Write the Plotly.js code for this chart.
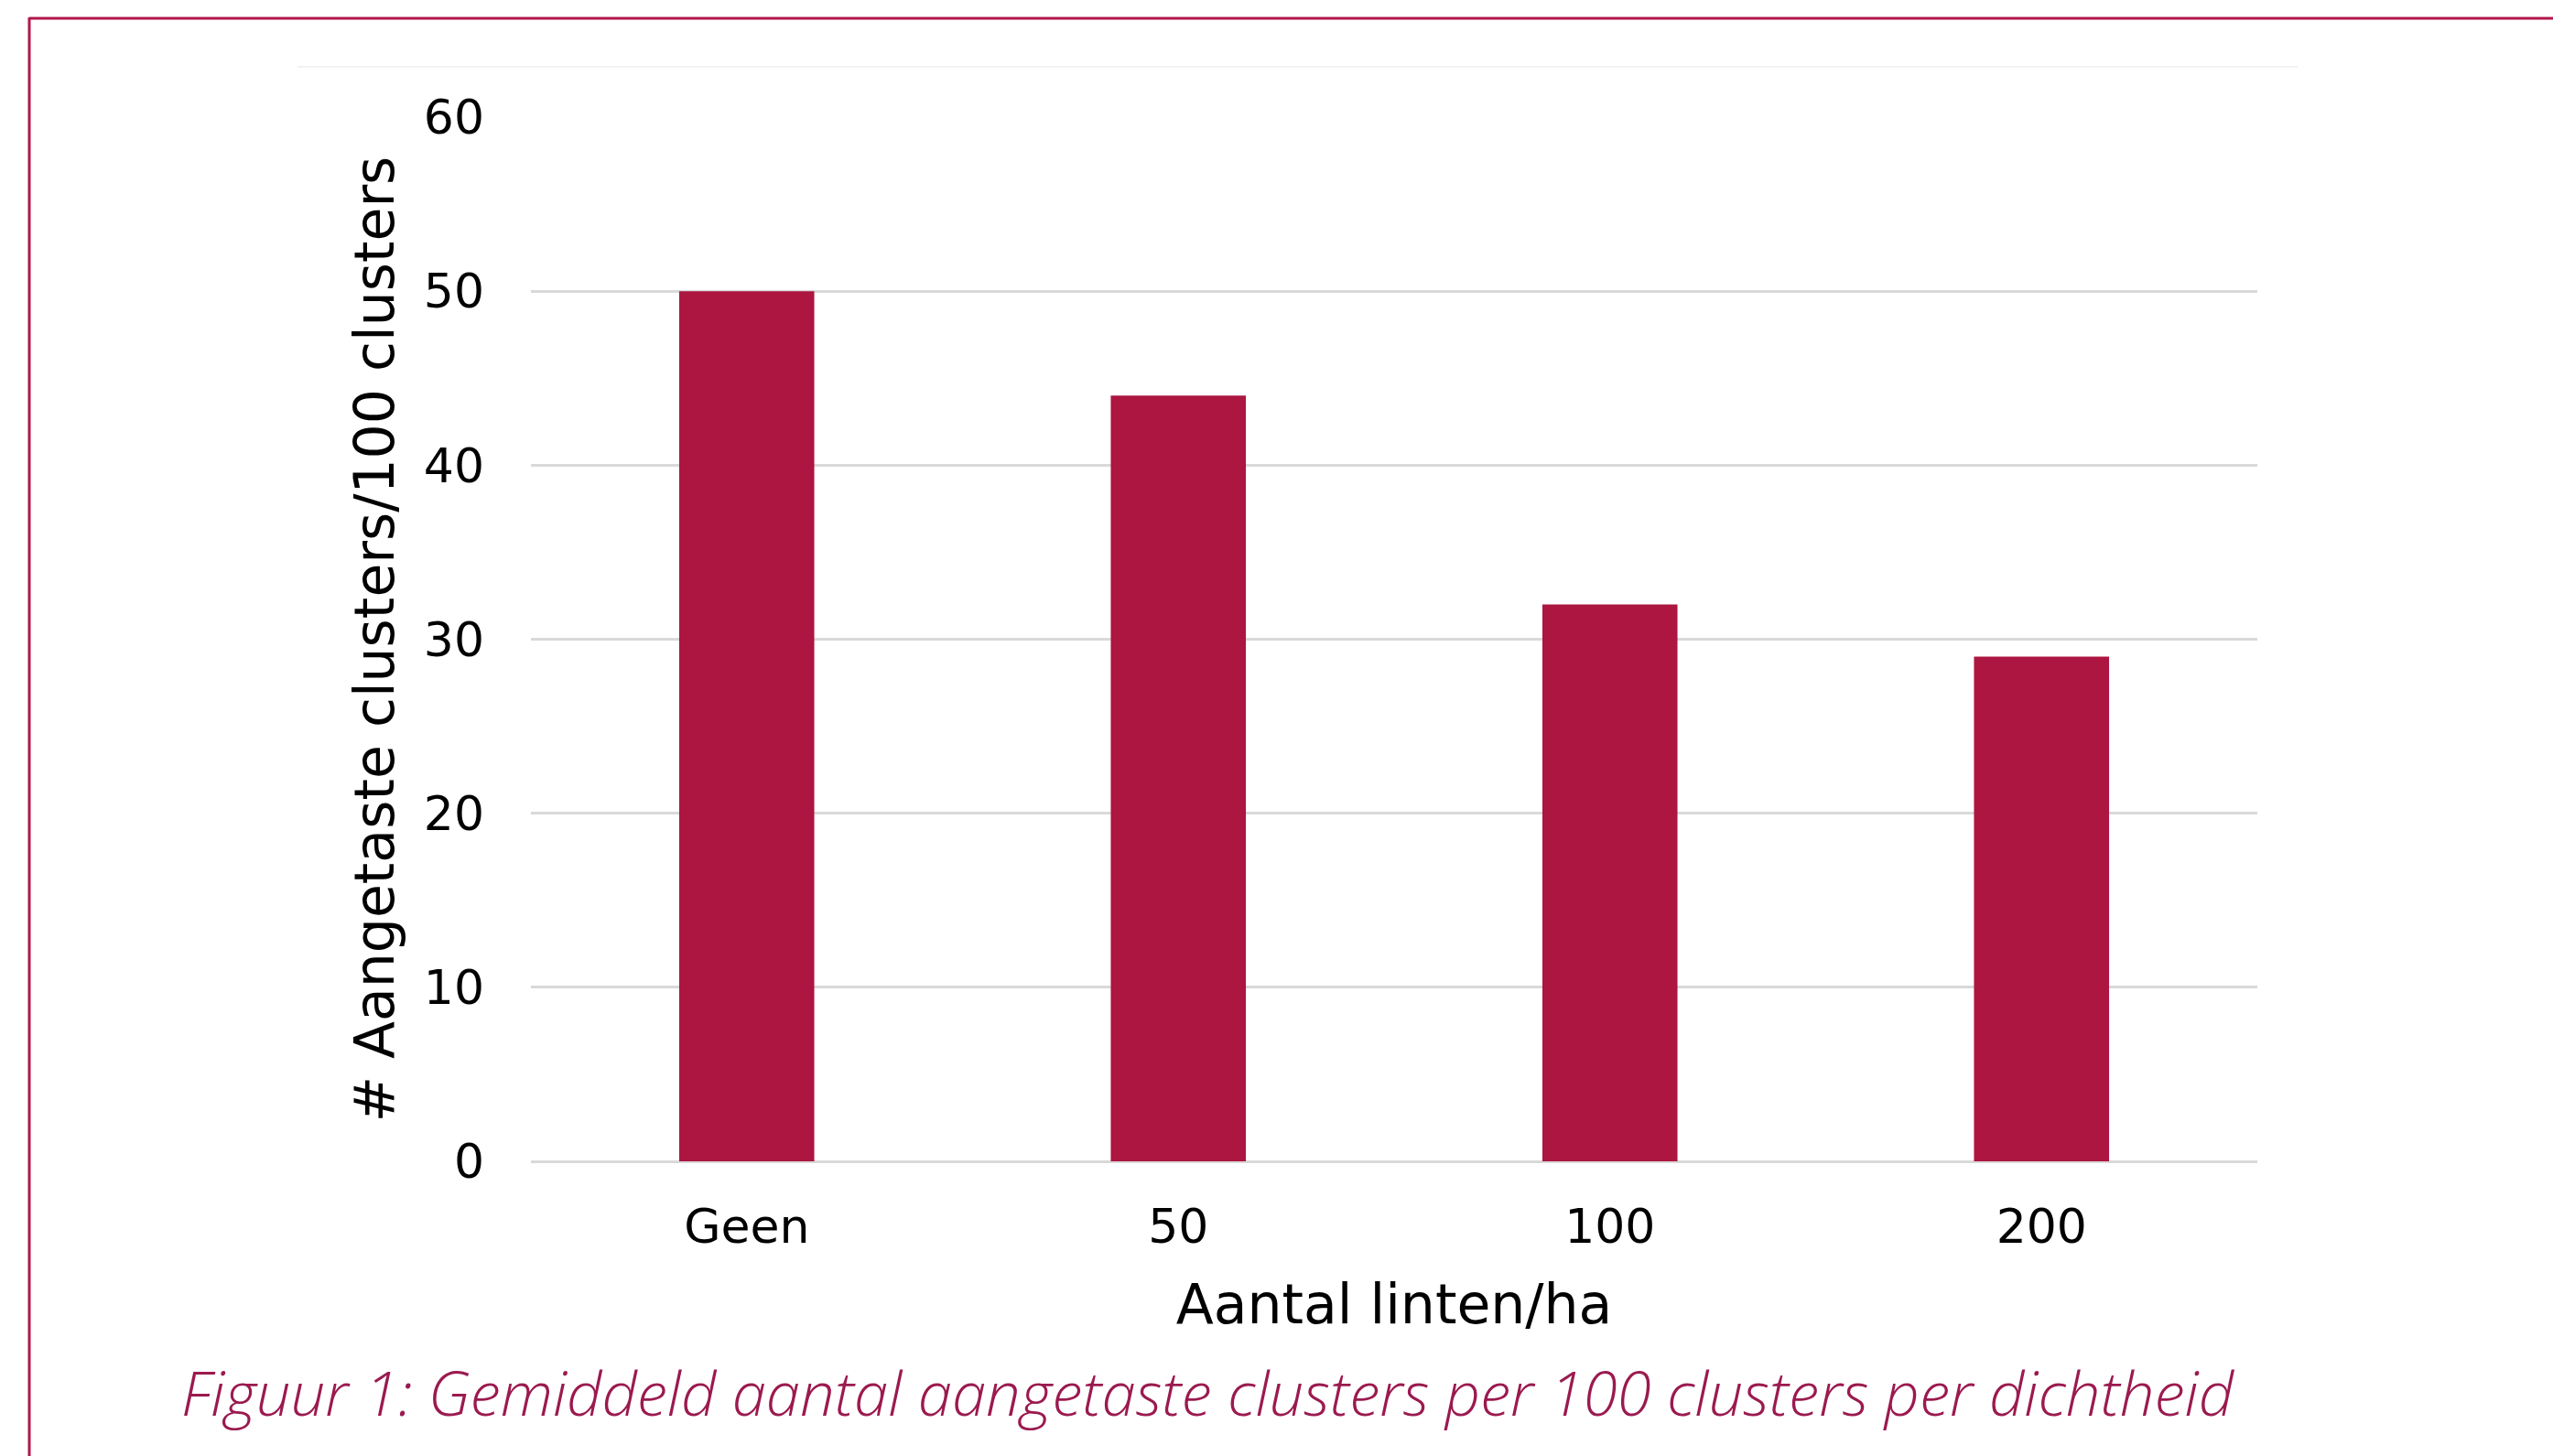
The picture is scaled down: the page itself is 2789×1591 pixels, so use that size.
<!DOCTYPE html>
<html>
<head>
<meta charset="utf-8">
<script src="https://cdn.plot.ly/plotly-3.0.1.min.js"></script>
<style>
html,body{margin:0;padding:0;background:#fff;}
#chart{width:2789px;height:1591px;}
</style>
</head>
<body>
<div id="chart"></div>
<script>
// Data
const categories = ["Geen", "50", "100", "200"];
const values = [50, 44, 32, 29];
const yTickVals = [0, 10, 20, 30, 40, 50, 60];
const yTitle = "# Aangetaste clusters/100 clusters";
const xTitle = "Aantal linten/ha";
const caption = "Figuur 1: Gemiddeld aantal aangetaste clusters per 100 clusters per dichtheid";

// Layout geometry (pixels)
const W = 2789, H = 1591;
const L = 580, R = 2466, T = 128, B = 1269;
const pw = R - L, ph = B - T;
const px = x => (x - L) / pw;
const py = y => (B - y) / ph;

const frameColor = "#B3174B";
const barColor = "#AC1640";
const captionColor = "#9B1A4F";

const trace = {
  type: "bar",
  x: categories,
  y: values,
  marker: {color: barColor},
  hoverinfo: "x+y"
};

const layout = {
  width: W, height: H,
  margin: {l: L, r: W - R, t: T, b: H - B, pad: 0},
  paper_bgcolor: "#ffffff",
  plot_bgcolor: "#ffffff",
  showlegend: false,
  bargap: 0.687,
  font: {family: "DejaVu Sans, Verdana, sans-serif", color: "#000000", size: 52},
  xaxis: {
    type: "category",
    showgrid: false,
    zeroline: false,
    showline: false,
    ticks: "",
    ticklabelstandoff: 36,
    tickfont: {size: 52, color: "#000000"},
    title: {text: xTitle, font: {size: 60, color: "#000000"}, standoff: 34},
    automargin: false
  },
  yaxis: {
    range: [0, 60],
    tickvals: yTickVals,
    showgrid: true,
    gridcolor: "#D9D9D9",
    gridwidth: 3,
    zeroline: true,
    zerolinecolor: "#D9D9D9",
    zerolinewidth: 3,
    showline: false,
    ticks: "",
    ticklabelstandoff: 50,
    tickfont: {size: 52, color: "#000000"},
    title: {text: yTitle, font: {size: 60, color: "#000000"}, standoff: 12},
    automargin: false
  },
  shapes: [
    {type: "line", xref: "paper", yref: "paper", x0: px(32), x1: px(W + 10), y0: py(20), y1: py(20),
     line: {color: frameColor, width: 3}},
    {type: "line", xref: "paper", yref: "paper", x0: px(32), x1: px(32), y0: py(19), y1: py(H + 10),
     line: {color: frameColor, width: 3}},
    {type: "line", xref: "paper", yref: "paper", x0: px(325), x1: px(2510), y0: py(73), y1: py(73),
     line: {color: "#F3F3F3", width: 2}, layer: "below"}
  ],
  annotations: [
    {text: caption, xref: "paper", yref: "paper", x: px(1320), y: py(1521),
     xanchor: "center", yanchor: "middle", showarrow: false,
     font: {family: "Open Sans, Noto Sans, sans-serif", size: 67, color: captionColor, style: "italic", weight: 300}}
  ]
};

Plotly.newPlot("chart", [trace], layout, {displayModeBar: false, staticPlot: true});
</script>
</body>
</html>
